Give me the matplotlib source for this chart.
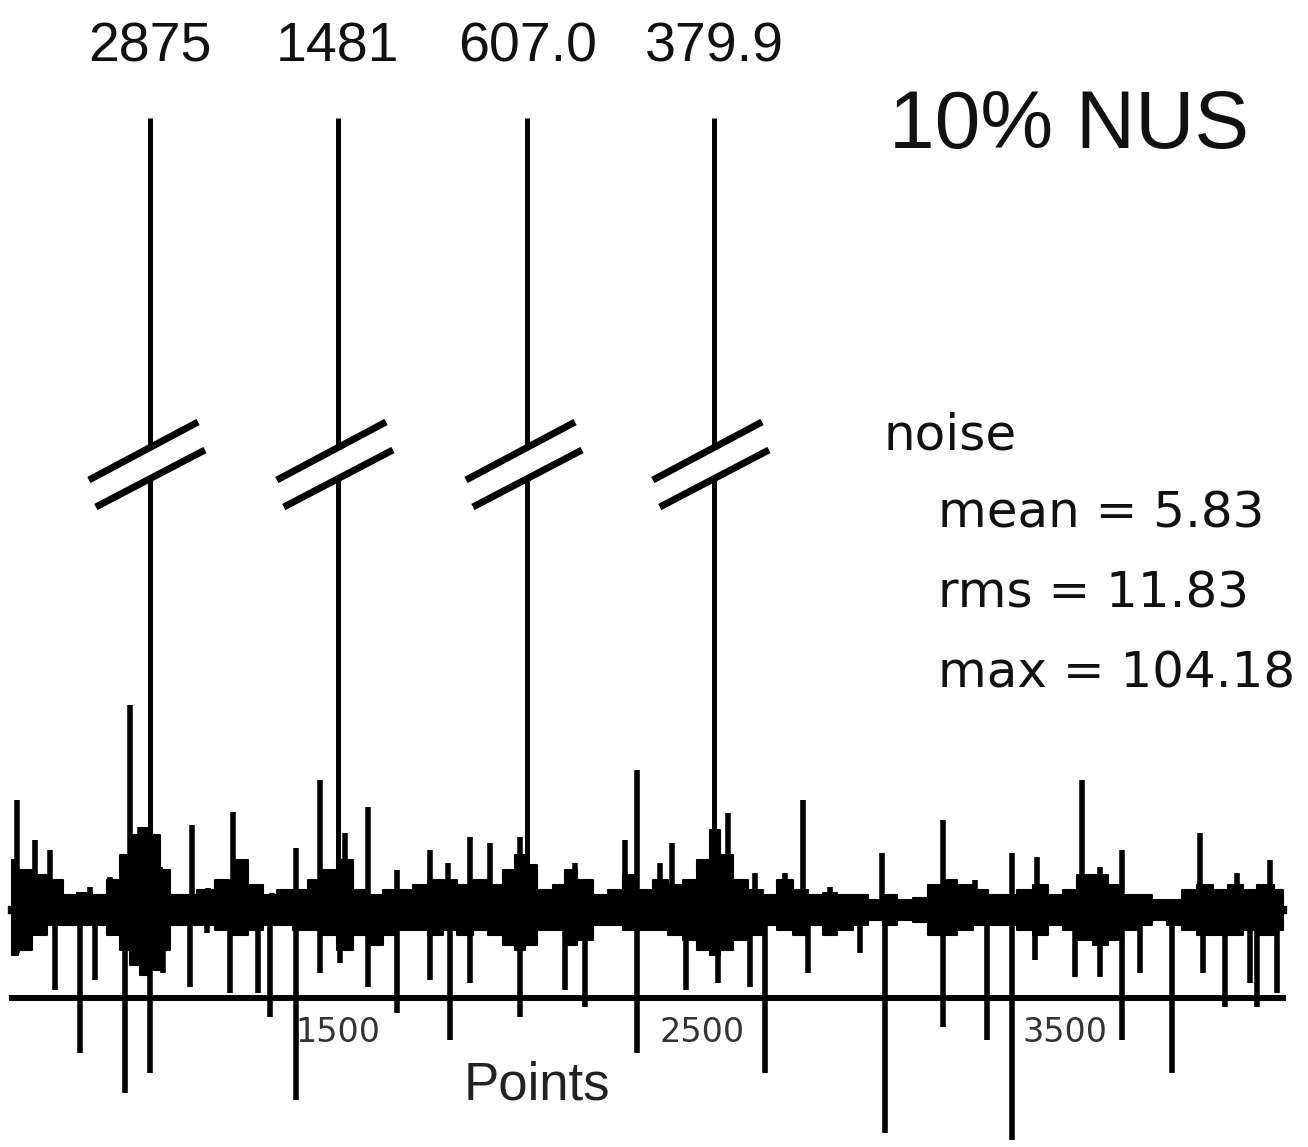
import numpy as np
import matplotlib.pyplot as plt

# peak positions (points) and the intensities written above them
peak_pos = [983, 1500, 2020, 2534]
peak_labels = ["2875", "1481", "607.0", "379.9"]

# dense noise band: upper / lower envelope
env_x = [603, 639, 680, 722, 763, 804, 845, 887, 914, 942, 969, 997, 1024, 1052,
         1093, 1134, 1189, 1231, 1272, 1313, 1354, 1396, 1437, 1478, 1519, 1561,
         1602, 1643, 1684, 1726, 1767, 1808, 1849, 1891, 1932, 1973, 2001, 2028,
         2069, 2111, 2138, 2179, 2221, 2262, 2303, 2344, 2386, 2427, 2468, 2509,
         2537, 2564, 2606, 2647, 2688, 2729, 2771, 2812, 2853, 2894, 2936, 2977,
         3018, 3059, 3101, 3142, 3183, 3224, 3266, 3307, 3348, 3389, 3431, 3472,
         3513, 3554, 3596, 3637, 3678, 3719, 3760, 3801, 3843, 3884, 3926, 3967,
         4008, 4049, 4099]
env_hi = [25, 20, 17.5, 15, 7.5, 8.5, 7.5, 15, 27.5, 37.5, 41, 37.5, 20, 7.5,
          7.5, 10, 15, 25, 12.5, 7.5, 10, 10, 15, 20, 25, 10,
          7.5, 10, 10, 12.5, 15, 15, 12.5, 15, 12.5, 20, 27.5, 22.5,
          10, 12.5, 20, 15, 7.5, 10, 17.5, 10, 15, 12.5, 15, 25,
          40, 27.5, 15, 10, 7.5, 15, 10, 7.5, 8.5, 7.5, 7.5, 5,
          7.5, 5, 6, 12.5, 15, 12.5, 10, 7.5, 7.5, 10, 12.5, 7.5,
          10, 17.5, 17.5, 12.5, 7.5, 7.5, 5, 5, 10, 12.5, 10, 12.5,
          10, 12.5, 10]
env_lo = [-22.5, -20, -12.5, -7.5, -7.5, -7.5, -7.5, -12.5, -20, -27.5, -32.5, -30, -20, -7.5,
          -7.5, -7.5, -10, -12.5, -10, -7.5, -7.5, -10, -10, -12.5, -20, -12.5,
          -17.5, -12.5, -10, -10, -12.5, -10, -12.5, -10, -12.5, -17.5, -20, -17.5,
          -10, -10, -17.5, -15, -7.5, -7.5, -10, -10, -10, -12.5, -15, -20,
          -22.5, -20, -15, -12.5, -7.5, -10, -12.5, -7.5, -12.5, -10, -7.5, -5,
          -7.5, -5, -6, -12.5, -12.5, -10, -7.5, -7.5, -7.5, -10, -12.5, -7.5,
          -10, -15, -17.5, -15, -10, -7.5, -5, -7.5, -10, -12.5, -12.5, -12.5,
          -10, -12.5, -10]

# positive noise spikes
up_x = [617, 667, 708, 818, 873, 928, 956, 1011, 1098, 1142, 1211, 1244, 1318, 1384,
        1450, 1519, 1582, 1662, 1753, 1803, 1863, 1918, 2001, 2152, 2289, 2322,
        2386, 2419, 2496, 2573, 2647, 2729, 2779, 2853, 2996, 3164, 3252, 3354,
        3422, 3546, 3596, 3656, 3871, 3972, 4063]
up_h = [55, 35, 30, 11.5, 16.5, 102.5, 41.5, 21.5, 42.5, 11, 49, 23.5, 8.5, 31,
        65, 38.5, 51.5, 20, 30, 23.5, 36.5, 33.5, 36.5, 23.5, 35, 70,
        23.5, 33.5, 18.5, 48.5, 18.5, 18.5, 55, 11.5, 28.5, 45, 15, 28.5,
        26.5, 65, 21.5, 30, 38.5, 18.5, 25]

# negative noise spikes
dn_x = [617, 722, 791, 832, 914, 983, 1019, 1093, 1140, 1203, 1280, 1313, 1384, 1450,
        1506, 1582, 1662, 1753, 1808, 1863, 2001, 2124, 2179, 2322, 2457, 2545,
        2633, 2674, 2793, 2936, 3004, 3164, 3285, 3354, 3417, 3527, 3596, 3656,
        3706, 3794, 3879, 3940, 4008, 4027, 4082]
dn_h = [-21.5, -40, -71.5, -35, -91.5, -81.5, -31.5, -38.5, -11.5, -41.5, -41.5, -53.5, -95, -31.5,
        -26.5, -38.5, -51.5, -35, -65, -36.5, -53.5, -40, -48.5, -71.5, -40, -36.5,
        -38.5, -81.5, -31.5, -21.5, -111.5, -58.5, -65, -115, -25, -33.5, -33.5, -65,
        -31.5, -81.5, -31.5, -48.5, -36.5, -48.5, -41.5]

tick_vals = [1500, 2500, 3500]

fig = plt.figure(figsize=(13.08, 11.47), dpi=100)
ax = fig.add_axes([0, 0, 1, 1])
ax.set_xlim(570.5, 4167.5)
ax.set_ylim(-118.5, 455)

# noise trace
ax.fill_between(env_x, env_lo, env_hi, step="mid", color="black", lw=1.5, zorder=2)
ax.plot([env_x[0], env_x[-1]], [0, 0], color="black", lw=6, zorder=2)
ax.vlines(up_x, 0, up_h, color="black", lw=4, zorder=3)
ax.vlines(dn_x, 0, dn_h, color="black", lw=4, zorder=3)

# tall peaks, broken by a double slash
top = 396
gap_lo, gap_hi = 215.5, 231.5
for p, lab in zip(peak_pos, peak_labels):
    ax.vlines(p, 0, gap_lo, color="black", lw=3.6, zorder=3)
    ax.vlines(p, gap_hi, top, color="black", lw=3.6, zorder=3)
    ax.plot([p - 168, p + 132], [215, 244], color="black", lw=5, solid_capstyle="butt", zorder=4)
    ax.plot([p - 149, p + 151], [201.5, 230], color="black", lw=5, solid_capstyle="butt", zorder=4)
    ax.text(p, 431, lab, ha="center", va="center", fontsize=40,
            family="Liberation Sans", color="#111111")

# x axis
for s in ["top", "left", "right"]:
    ax.spines[s].set_visible(False)
ax.spines["bottom"].set_position(("data", -44))
ax.spines["bottom"].set_bounds(603, 4099)
ax.spines["bottom"].set_linewidth(4.3)
ax.spines["bottom"].set_zorder(5)
ax.set_yticks([])
ax.set_xticks(tick_vals)
ax.set_xticklabels([str(t) for t in tick_vals])
ax.tick_params(axis="x", length=0, pad=13, labelsize=24, labelcolor="#333333")
ax.patch.set_visible(False)

fig.text(537 / 1308, 1 - 1086 / 1147, "Points", ha="center", va="center",
         fontsize=38, family="Liberation Sans", color="#222222")

fig.text(889 / 1308, 1 - 148 / 1147, "10% NUS", ha="left", va="baseline",
         fontsize=59, family="Liberation Sans", color="#111111")

fig.text(883 / 1308, 1 - 450 / 1147, "noise", ha="left", va="baseline",
         fontsize=36, color="#111111")
stats = ["mean = 5.83", "rms = 11.83", "max = 104.18"]
baselines = [528, 607, 687]
for s, b in zip(stats, baselines):
    fig.text(938 / 1308, 1 - b / 1147, s, ha="left", va="baseline",
             fontsize=36, color="#111111")

fig.savefig("out.png", dpi=100)
